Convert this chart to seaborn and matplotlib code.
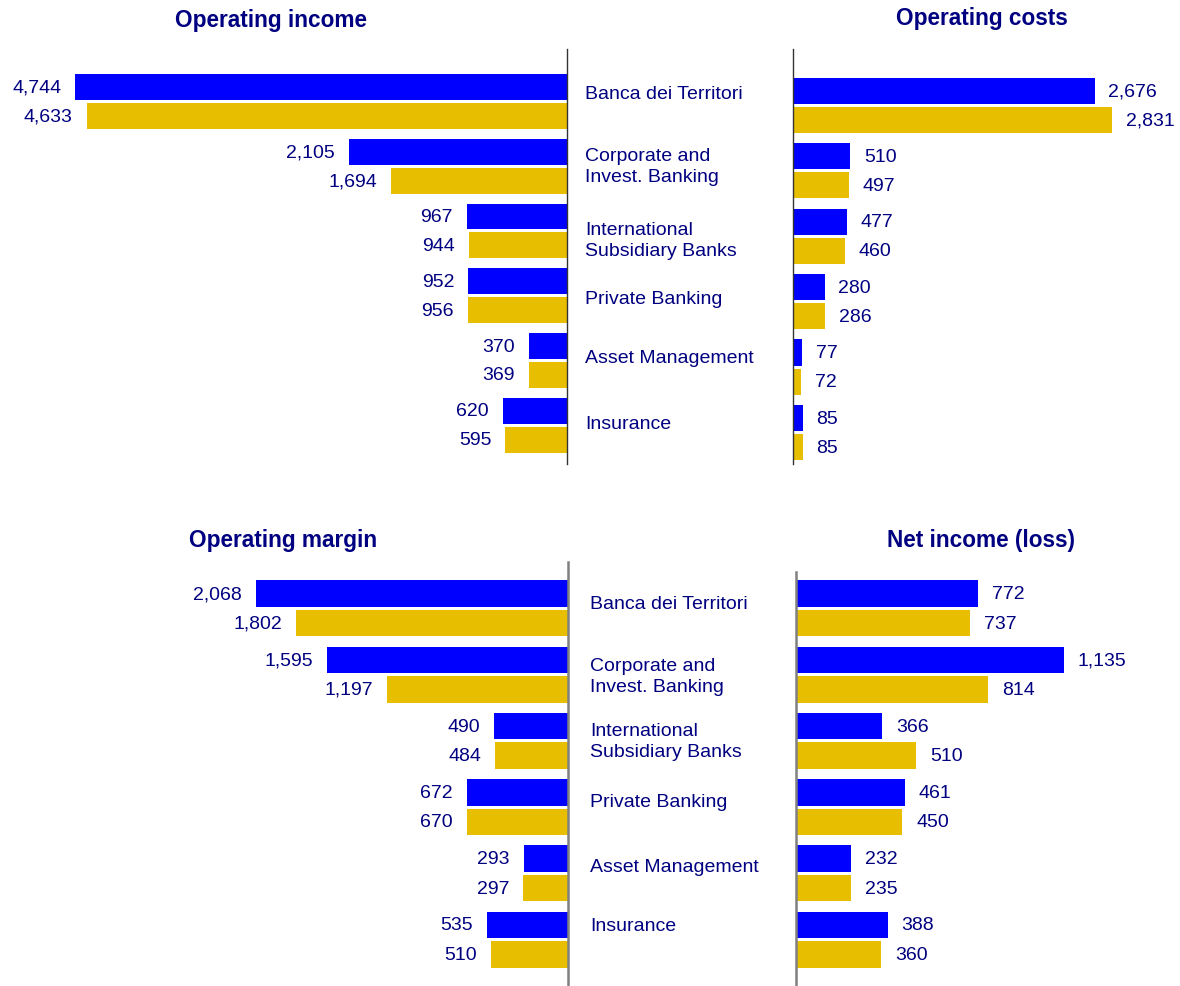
import pandas as pd
import seaborn as sns
import matplotlib.pyplot as plt
import matplotlib.transforms as transforms

# data
segments = [
    "Banca dei Territori",
    "Corporate and\nInvest. Banking",
    "International\nSubsidiary Banks",
    "Private Banking",
    "Asset Management",
    "Insurance",
]
periods = ["current", "previous"]

op_income_cur = [4744, 2105, 967, 952, 370, 620]
op_income_prev = [4633, 1694, 944, 956, 369, 595]
op_costs_cur = [2676, 510, 477, 280, 77, 85]
op_costs_prev = [2831, 497, 460, 286, 72, 85]
op_margin_cur = [2068, 1595, 490, 672, 293, 535]
op_margin_prev = [1802, 1197, 484, 670, 297, 510]
net_income_cur = [772, 1135, 366, 461, 232, 388]
net_income_prev = [737, 814, 510, 450, 235, 360]

BLUE = "#0000FF"
GOLD = "#E8BE00"
NAVY = "#000080"

W, H = 1180, 987

sns.set_theme(style="white")
plt.rcParams["font.family"] = ["Liberation Sans", "DejaVu Sans"]


def make_df(cur, prev):
    return pd.DataFrame(
        {
            "segment": segments * 2,
            "period": [periods[0]] * len(cur) + [periods[1]] * len(prev),
            "value": list(cur) + list(prev),
        }
    )


def px_axes(fig, left, top, right, bottom):
    # pixel box -> figure fraction
    return fig.add_axes([left / W, 1 - bottom / H, (right - left) / W, (bottom - top) / H])


def draw_panel(ax, cur, prev, xmax, ylim, mirrored, spine_color, spine_lw):
    df = make_df(cur, prev)
    sns.barplot(
        data=df,
        y="segment",
        x="value",
        hue="period",
        hue_order=periods,
        order=segments,
        orient="h",
        palette=[BLUE, GOLD],
        saturation=1,
        width=0.89,
        gap=0.1,
        linewidth=0,
        legend=False,
        ax=ax,
    )
    if mirrored:
        ax.set_xlim(xmax, 0)
    else:
        ax.set_xlim(0, xmax)
    ax.set_ylim(*ylim)
    for c in ax.containers:
        ax.bar_label(c, fmt="{:,.0f}", padding=10, fontsize=14, color=NAVY)
    for s in ax.spines.values():
        s.set_visible(False)
    side = "right" if mirrored else "left"
    ax.spines[side].set_visible(True)
    ax.spines[side].set_color(spine_color)
    ax.spines[side].set_linewidth(spine_lw)
    ax.set_xticks([])
    ax.set_yticks([])
    ax.set_xlabel("")
    ax.set_ylabel("")
    ax.patch.set_alpha(0)


def draw_labels(fig, ax, x_px, offsets):
    trans = transforms.blended_transform_factory(fig.transFigure, ax.transData)
    for i, (seg, off) in enumerate(zip(segments, offsets)):
        fig.text(
            x_px / W, i + off, seg, transform=trans, ha="left", va="center",
            fontsize=14, color=NAVY, linespacing=1.33,
        )


fig = plt.figure(figsize=(W / 100, H / 100), dpi=100)

ax1 = px_axes(fig, 20, 50, 567, 465)
draw_panel(ax1, op_income_cur, op_income_prev, 5275, (5.6, -0.81), True, "#333333", 1.0)
ax2 = px_axes(fig, 793, 50, 1170, 465)
draw_panel(ax2, op_costs_cur, op_costs_prev, 3345, (5.48, -0.86), False, "#333333", 1.0)
ax3 = px_axes(fig, 20, 563, 568, 987)
draw_panel(ax3, op_margin_cur, op_margin_prev, 3629, (5.7, -0.7), True, "#808080", 1.8)
ax4 = px_axes(fig, 796, 573, 1170, 987)
draw_panel(ax4, net_income_cur, net_income_prev, 1585, (5.7, -0.55), False, "#808080", 1.8)

draw_labels(fig, ax1, 585, [-0.12, 0.0, 0.14, 0.05, -0.04, -0.02])
draw_labels(fig, ax3, 590, [-0.07, 0.02, 0.0, -0.08, -0.11, -0.22])

titles = [
    ("Operating income", 271, 20),
    ("Operating costs", 982, 18),
    ("Operating margin", 283, 541),
    ("Net income (loss)", 981, 541),
]
for text, x, y in titles:
    fig.text(x / W, 1 - y / H, text, ha="center", va="center",
             fontsize=16.3, fontweight="bold", color=NAVY)

fig.savefig("out.png", dpi=100)
